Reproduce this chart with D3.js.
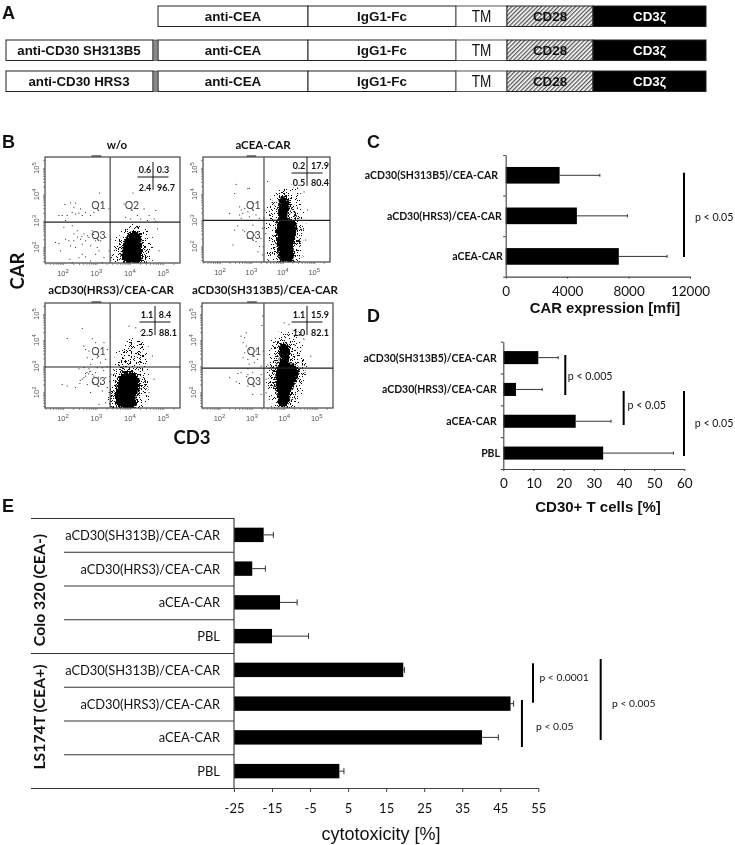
<!DOCTYPE html>
<html><head><meta charset="utf-8">
<script src="https://cdn.jsdelivr.net/npm/d3@7"></script>
<style>
html,body{margin:0;padding:0;background:#fff}
svg{display:block;filter:blur(0.35px)}
text{fill:#111}
.cal{font-family:Lato,sans-serif}
.ari{font-family:"Liberation Sans",Arial,sans-serif}
</style></head><body><svg id="c" width="735" height="845"></svg>
<script>
// ---------- Panel A
const segmentNames = ["anti-CEA","IgG1-Fc","TM","CD28","CD3ζ"];
const segmentEnds = [0,150,298,349,435,548];
const constructPrefixes = ["", "anti-CD30 SH313B5", "anti-CD30 HRS3"];
// ---------- Panel B (log10 fluorescence)
const panelTitles = ["w/o","aCEA-CAR","aCD30(HRS3)/CEA-CAR","aCD30(SH313B5)/CEA-CAR"];
const gateX = [3.41,3.40,3.41,3.37];
const gateY = [2.95,2.99,2.97,2.93];
const quadrantStats = [["0.6","0.3","2.4","96.7"],["0.2","17.9","0.5","80.4"],["1.1","8.4","2.5","88.1"],["1.1","15.9","1.0","82.1"]];
const coreWo = [[3.85,1.42],[4.3,1.42],[4.36,2.0],[4.3,2.45],[4.1,2.62],[3.9,2.4],[3.78,2.05],[3.75,1.7]];
const haloWo = [[3.45,1.42],[4.6,1.42],[4.62,2.1],[4.45,2.65],[4.1,2.85],[3.75,2.6],[3.55,2.2],[3.42,1.8]];
const coreCea = [[3.95,1.42],[4.3,1.42],[4.35,2.0],[4.42,2.5],[4.4,2.95],[4.15,3.1],[4.22,3.5],[4.12,3.9],[3.9,3.85],[3.85,3.4],[3.85,3.05],[3.8,2.6],[3.8,2.0]];
const haloCea = [[3.55,1.42],[4.55,1.42],[4.62,2.3],[4.68,3.0],[4.55,3.6],[4.55,4.05],[4.2,4.3],[3.85,4.15],[3.55,3.5],[3.45,2.8],[3.47,2.1]];
const coreHrs = [[3.65,1.42],[4.15,1.42],[4.2,1.8],[4.3,2.2],[4.25,2.6],[4.0,2.8],[3.7,2.65],[3.6,2.2],[3.55,1.8]];
const haloHrs = [[3.4,1.42],[4.5,1.42],[4.55,2.2],[4.5,2.9],[4.55,3.4],[4.4,3.95],[4.0,4.1],[3.75,3.8],[3.55,3.2],[3.45,2.6],[3.4,2.0]];
const midHrs = [[3.75,2.9],[4.2,2.9],[4.35,3.3],[4.25,3.75],[4.0,3.85],[3.8,3.6],[3.7,3.2]];
const coreSh = [[3.85,1.5],[4.1,1.5],[4.2,2.0],[4.42,2.6],[4.4,3.0],[4.15,3.15],[4.18,3.6],[4.05,3.9],[3.85,3.8],[3.85,3.2],[3.75,2.9],[3.72,2.4],[3.78,1.9]];
const haloSh = [[3.7,1.42],[4.3,1.42],[4.5,2.2],[4.7,3.0],[4.5,3.7],[4.5,4.2],[4.1,4.35],[3.7,4.0],[3.5,3.4],[3.45,2.6],[3.55,2.0]];
const sparseWo = [[3.08,4.07],[2.04,3.64],[2.21,3.7],[2.36,3.69],[2.31,3.53],[2.51,3.47],[2.46,3.31],[2.36,3.28],[2.26,3.34],[1.86,3.22],[1.96,3.22],[2.11,3.22],[2.06,3.03],[2.66,3.34],[2.81,3.22],[2.91,3.34],[2.56,3.22],[3.36,3.47],[4.08,4.07],[3.81,3.66],[4.21,3.22],[4.41,3.47],[4.56,3.22],[4.76,3.41],[4.71,3.09],[3.86,3.15],[4.01,3.09],[4.31,3.09],[4.51,3.03],[4.76,3.0],[2.01,2.77],[2.26,2.83],[2.41,2.64],[2.31,2.52],[2.61,2.52],[2.86,2.64],[2.51,2.32],[2.66,2.26],[2.31,2.26],[2.16,2.26],[2.06,2.32],[1.76,2.2],[1.86,2.16],[2.21,2.07],[2.36,2.01],[2.56,2.13],[2.76,2.39],[2.96,2.26],[2.81,2.07],[3.01,2.01],[3.11,2.26],[3.26,2.39],[3.41,2.32],[2.46,1.62],[2.56,1.75],[2.66,1.65],[2.19,1.56],[2.26,1.43],[1.91,1.88],[3.06,1.88],[3.21,1.62],[3.36,1.88],[2.81,1.49],[2.96,1.75],[3.16,1.43],[4.81,2.71],[4.66,2.39],[4.86,1.88],[2.42,2.4],[2.72,2.45],[2.9,2.5],[2.55,2.42]];
const sparseCea = [[2.5,4.39],[2.87,4.23],[2.92,4.23],[2.45,4.04],[2.61,3.53],[2.66,3.41],[2.77,3.47],[2.71,3.28],[2.87,3.34],[2.61,3.22],[2.29,3.28],[2.66,3.09],[3.03,3.66],[3.13,3.22],[3.24,3.09],[2.92,3.15],[2.55,2.8],[2.71,2.64],[2.77,2.58],[2.45,2.64],[2.4,2.07],[3.03,2.83],[3.08,2.45],[3.19,1.81],[3.24,2.01],[3.29,2.32],[3.13,2.2],[2.87,2.32],[3.34,2.71],[3.34,1.69],[4.77,3.41],[4.66,4.1],[4.55,4.04],[4.45,4.23],[4.64,2.64],[4.71,2.26],[3.5,4.5],[3.42,3.4],[3.38,3.1],[3.44,2.5],[3.36,2.0]];
const sparseHrs = [[2.56,4.46],[2.11,4.08],[3.96,4.55],[4.16,4.49],[4.31,4.36],[2.61,3.79],[2.66,3.66],[2.86,4.07],[2.96,3.92],[2.76,3.6],[3.21,3.92],[3.31,3.66],[2.71,3.34],[2.86,3.28],[3.01,3.34],[3.11,3.15],[3.26,3.28],[2.81,3.09],[2.61,2.96],[2.76,2.92],[2.46,2.92],[3.01,2.96],[3.16,2.96],[2.81,2.83],[2.96,2.77],[2.66,2.74],[2.86,2.7],[2.56,2.52],[2.66,2.64],[2.61,2.58],[2.91,2.64],[1.96,2.32],[2.11,2.26],[2.36,2.2],[2.49,2.36],[2.71,2.32],[3.11,2.32],[3.26,2.58],[3.31,2.2],[3.16,2.07],[3.06,1.56],[3.26,1.62],[2.81,2.01],[4.66,3.41],[4.71,2.52],[4.56,2.01],[2.7,2.78],[2.75,2.72],[2.78,2.8],[2.5,2.48],[2.9,2.4],[3.05,2.6],[3.2,2.85],[3.3,3.0]];
const sparseSh = [[3.32,4.94],[3.29,4.58],[2.81,4.3],[2.65,4.17],[2.76,4.11],[2.71,3.92],[2.81,3.79],[2.91,3.66],[2.76,3.53],[3.11,3.6],[3.01,3.41],[2.71,3.34],[2.86,3.28],[3.16,3.28],[3.06,3.15],[3.27,3.02],[2.86,2.92],[2.65,2.77],[2.55,2.74],[2.86,2.7],[3.01,2.77],[2.3,2.58],[2.5,2.42],[2.6,2.36],[2.86,2.26],[3.27,2.7],[3.21,2.32],[3.27,1.94],[3.01,1.94],[3.42,2.52],[3.52,1.75],[3.42,2.0],[4.8,3.4],[3.98,4.68],[4.13,4.62],[4.34,4.43],[4.59,4.05],[4.64,2.7],[2.82,2.62],[2.9,3.1],[3.33,3.6]];
// ---------- Panel C
const cCategories = ["aCD30(SH313B5)/CEA-CAR","aCD30(HRS3)/CEA-CAR","aCEA-CAR"];
const cValues = [3510,4635,7365];
const cErrorEnds = [6130,7930,10505];
const cTicks = [0,4000,8000,12000];
// ---------- Panel D
const dCategories = ["aCD30(SH313B5)/CEA-CAR","aCD30(HRS3)/CEA-CAR","aCEA-CAR","PBL"];
const dValues = [11.6,4.2,24,33.1];
const dErrorEnds = [18.2,12.9,35.7,56.4];
const dTicks = [0,10,20,30,40,50,60];
// ---------- Panel E
const eCategories = ["aCD30(SH313B)/CEA-CAR","aCD30(HRS3)/CEA-CAR","aCEA-CAR","PBL","aCD30(SH313B)/CEA-CAR","aCD30(HRS3)/CEA-CAR","aCEA-CAR","PBL"];
const eValues = [-17.2,-20.2,-12.9,-15,19.5,47.7,40.2,2.7];
const eErrorEnds = [-14.65,-16.75,-8.4,-5.4,19.8,48.5,44.5,3.9];
const eTicks = [-25,-15,-5,5,15,25,35,45,55];
const eGroups = ["Colo 320 (CEA-)","LS174T (CEA+)"];

const svg = d3.select("#c");
const defs = svg.append("defs");
const hatch = defs.append("pattern").attr("id","hatch").attr("width",3).attr("height",3).attr("patternUnits","userSpaceOnUse").attr("patternTransform","rotate(-45)");
hatch.append("rect").attr("width",3).attr("height",3).attr("fill","#fff");
hatch.append("rect").attr("width",3).attr("height",1.3).attr("fill","#555");
function stipple(id, dots){
  const p = defs.append("pattern").attr("id",id).attr("width",13).attr("height",13).attr("patternUnits","userSpaceOnUse");
  p.selectAll("rect").data(dots).join("rect").attr("x",d=>d[0]).attr("y",d=>d[1]).attr("width",1).attr("height",1).attr("fill","#111");
}
stipple("sparse",[[1,2],[5,0],[9,3],[12,1],[3,6],[7,5],[11,7],[0,9],[5,10],[8,8],[10,11],[2,12],[6,2],[0,5],[9,6],[3,9],[12,10],[7,12]]);
stipple("dense",[[1,2],[5,0],[9,3],[12,1],[3,6],[7,5],[11,7],[0,9],[5,10],[8,8],[10,11],[2,12],[3,3],[7,2],[10,5],[0,5],[5,7],[2,10],[7,11],[12,9],[6,3],[1,7],[9,10],[4,12],[11,2],[8,6],[4,1],[2,5],[6,9],[11,12],[9,0],[12,5]]);
function fuzz(id,scale,seed){
  const f=defs.append("filter").attr("id",id).attr("filterUnits","userSpaceOnUse").attr("x",0).attr("y",100).attr("width",400).attr("height",340);
  f.append("feTurbulence").attr("type","fractalNoise").attr("baseFrequency",.8).attr("numOctaves",2).attr("seed",seed).attr("result","n");
  f.append("feDisplacementMap").attr("in","SourceGraphic").attr("in2","n").attr("scale",scale).attr("xChannelSelector","R").attr("yChannelSelector","G");
}
fuzz("fzCore",7,3); fuzz("fzHalo",14,8);

function txt(x,y,s,cls,size,weight,anchor){
  return svg.append("text").attr("x",x).attr("y",y).attr("class",cls).attr("font-size",size)
    .attr("font-weight",weight||400).attr("text-anchor",anchor||"middle").attr("dominant-baseline","central").text(s);
}
// Panel letters
[["A",2,13],["B",2,142],["C",367,142],["D",367,316],["E",2,506]].forEach(d=>txt(d[1],d[2],d[0],"ari",18,700,"start"));

// ---------- A
const ax = d3.scaleLinear().domain([0,548]).range([158,706]);
const rowTops = [6,40,71];
constructPrefixes.forEach((pre,r)=>{
  const y = rowTops[r], h = 20.5;
  segmentNames.forEach((n,i)=>{
    const x0=ax(segmentEnds[i]), x1=ax(segmentEnds[i+1]);
    svg.append("rect").attr("x",x0).attr("y",y).attr("width",x1-x0).attr("height",h)
      .attr("fill",i===3?"url(#hatch)":i===4?"#000":"#fff").attr("stroke",i===2?"#555":"#222").attr("stroke-width",1);
    const t = txt((x0+x1)/2, y+h/2, n, "ari", i===2?16:13.4, i===2?400:700);
    if(i===4) t.style("fill","#fff");
    if(i===2) t.attr("transform",`translate(${(x0+x1)/2},0) scale(.85,1) translate(${-(x0+x1)/2},0)`);
  });
  if(pre){
    svg.append("rect").attr("x",6).attr("y",y).attr("width",147).attr("height",h).attr("fill","#fff").attr("stroke","#222");
    svg.append("rect").attr("x",153).attr("y",y).attr("width",5).attr("height",h).attr("fill","#888").attr("stroke","#222").attr("stroke-width",.5);
    txt(79,y+h/2,pre,"ari",13.3,700);
  }
});

// ---------- B
const boxes = [[45,180,157,263],[203,330,157,262],[45,180,303,408],[202,333,303,408]];
const allCore=[coreWo,coreCea,coreHrs,coreSh], allHalo=[haloWo,haloCea,haloHrs,haloSh], allSparse=[sparseWo,sparseCea,sparseHrs,sparseSh];
const titleCenters=[[117,144],[263,144],[111,289],[265,289]];
const crossLayout=[[153,177,162,190,145,163,169,187,166,163],[307,173,157,186,299,320,165,182,320,320],[155,322,306,335,147,165,314,332,168,165],[307,322,306,335,299,320,314,332,320,320]];
boxes.forEach((b,i)=>{
  const x=d3.scaleLinear().domain([1.46,5.5]).range([b[0],b[1]]);
  const y=d3.scaleLinear().domain([1.4,5.42]).range([b[3],b[2]]);
  const line=d3.line().x(d=>x(d[0])).y(d=>y(d[1])).curve(d3.curveCatmullRomClosed.alpha(.5));
  const g=svg.append("g");
  defs.append("clipPath").attr("id","clip"+i).append("rect").attr("x",b[0]).attr("y",b[2]).attr("width",b[1]-b[0]).attr("height",b[3]-b[2]);
  const cloud=g.append("g").attr("clip-path",`url(#clip${i})`);
  const h=cloud.append("g").attr("filter","url(#fzHalo)");
  h.append("path").attr("d",line(allHalo[i])).attr("fill","url(#sparse)");
  if(i===2) h.append("path").attr("d",line(midHrs)).attr("fill","url(#dense)");
  h.append("path").attr("d",line(allCore[i])).attr("fill","none").attr("stroke","url(#dense)").attr("stroke-width",12);
  cloud.append("g").attr("filter","url(#fzCore)").append("path").attr("d",line(allCore[i])).attr("fill","#000");
  g.selectAll("rect.s").data(allSparse[i]).join("rect").attr("class","s").attr("x",d=>x(d[0])).attr("y",d=>y(d[1])).attr("width",1).attr("height",1).attr("fill","#222");
  g.append("rect").attr("x",b[0]).attr("y",b[2]).attr("width",b[1]-b[0]).attr("height",b[3]-b[2]).attr("fill","none").attr("stroke","#444").attr("stroke-width",1.2);
  g.append("line").attr("x1",x(gateX[i])).attr("x2",x(gateX[i])).attr("y1",b[2]).attr("y2",b[3]).attr("stroke","#555").attr("stroke-width",1.3);
  g.append("line").attr("y1",y(gateY[i])).attr("y2",y(gateY[i])).attr("x1",b[0]).attr("x2",b[1]).attr("stroke","#222").attr("stroke-width",1.2);
  // Gate names
  [["Q1",3.06,3.6],["Q3",3.06,2.45]].concat(i===0?[["Q2",4.06,3.6]]:[]).forEach(q=>{
    txt(x(q[1]),y(q[2]),q[0],"cal",10.5,400).style("fill","#444");
  });
  // log axes
  const minor=[]; for(let d=1;d<5.5;d++) for(let m=1;m<10;m++){const v=d+Math.log10(m); if(v>=1.46&&v<=5.42) minor.push(v);}
  const xa=g.append("g").attr("transform",`translate(0,${b[3]})`).call(d3.axisBottom(x).tickValues(minor).tickSize(2).tickFormat("").tickSizeOuter(0));
  const ya=g.append("g").attr("transform",`translate(${b[0]},0)`).call(d3.axisLeft(y).tickValues(minor).tickSize(2).tickFormat("").tickSizeOuter(0));
  [xa,ya].forEach(a=>{a.select(".domain").remove();a.selectAll("line").attr("stroke","#666").attr("stroke-width",.7);});
  [2,3,4,5].forEach(e=>{
    const tx=g.append("text").attr("x",x(e)).attr("y",b[3]+13).attr("text-anchor","middle").attr("font-family","Liberation Sans").attr("font-size",7.5).style("fill","#555");
    tx.append("tspan").text("10"); tx.append("tspan").attr("dy",-3).attr("font-size",6).text(e);
    const ty=g.append("text").attr("transform",`translate(${b[0]-6},${y(e)}) rotate(-90)`).attr("text-anchor","middle").attr("font-family","Liberation Sans").attr("font-size",7.5).style("fill","#555");
    ty.append("tspan").text("10"); ty.append("tspan").attr("dy",-3).attr("font-size",6).text(e);
  });
  g.append("line").attr("x1",x(2.85)).attr("x2",x(3.15)).attr("y1",b[2]-1).attr("y2",b[2]-1).attr("stroke","#333").attr("stroke-width",1.2);
  // Quadrant table
  const c=crossLayout[i], s=quadrantStats[i];
  g.append("line").attr("x1",c[0]-15.5).attr("x2",c[0]+15.5).attr("y1",c[1]).attr("y2",c[1]).attr("stroke","#111").attr("stroke-width",1);
  g.append("line").attr("x1",c[0]).attr("x2",c[0]).attr("y1",c[2]).attr("y2",c[3]).attr("stroke","#111").attr("stroke-width",1);
  txt(c[4],c[6],s[0],"cal",9,700); txt(c[9],c[6],s[1],"cal",9,700);
  txt(c[4],c[7],s[2],"cal",9,700); txt(c[8],c[7],s[3],"cal",9,700);
  txt(titleCenters[i][0],titleCenters[i][1],panelTitles[i],"cal",11.5,700);
});
svg.append("text").attr("class","cal").attr("font-size",18.5).attr("font-weight",700).attr("text-anchor","middle").attr("dominant-baseline","central").attr("transform","translate(17,271) rotate(-90)").text("CAR");
txt(192,437,"CD3","cal",18.5,700);

// ---------- bar helper
function bars(o){
  const x=d3.scaleLinear().domain(o.domain).range(o.xr);
  const y=d3.scaleBand().domain(d3.range(o.cats.length)).range(o.yr).paddingInner(o.p).paddingOuter(o.p/2);
  const idx=d3.scaleLinear().domain([0,o.cats.length]).range(o.yr);
  const g=svg.append("g");
  const base=o.domain[0];
  g.selectAll("rect").data(o.vals).join("rect").attr("x",x(base)).attr("y",(d,i)=>y(i)).attr("width",d=>x(d)-x(base)).attr("height",y.bandwidth()).attr("fill","#000");
  const mid=i=>y(i)+y.bandwidth()/2;
  g.selectAll("line.e").data(o.errs).join("line").attr("class","e").attr("x1",(d,i)=>x(o.vals[i])).attr("x2",d=>x(d)).attr("y1",(d,i)=>mid(i)).attr("y2",(d,i)=>mid(i)).attr("stroke","#333").attr("stroke-width",1);
  g.selectAll("line.c").data(o.errs).join("line").attr("class","c").attr("x1",d=>x(d)).attr("x2",d=>x(d)).attr("y1",(d,i)=>mid(i)-o.cap).attr("y2",(d,i)=>mid(i)+o.cap).attr("stroke","#333").attr("stroke-width",1);
  const xa=g.append("g").attr("transform",`translate(0,${o.yr[1]})`).call(d3.axisBottom(x).tickValues(o.ticks).tickSize(o.tick).tickSizeOuter(0).tickFormat(d=>String(d)));
  xa.select(".domain").attr("stroke","#444").attr("stroke-width",1.2);
  xa.selectAll("line").attr("stroke","#444").attr("stroke-width",1);
  xa.selectAll("text").attr("class","cal").attr("font-family","Lato").attr("font-size",o.tickFont).attr("dy",0).attr("y",o.tickY).attr("dominant-baseline","central").style("fill","#111");
  if(o.leftTicks){
    const ya=g.append("g").attr("transform",`translate(${o.xr[0]},0)`).call(d3.axisLeft(idx).ticks(o.cats.length).tickSize(2.5).tickSizeOuter(0).tickFormat(""));
    ya.selectAll("path,line").attr("stroke","#444").attr("stroke-width",1.1);
  }
  o.cats.forEach((c,i)=>{ txt(o.labelX[i],mid(i),c,"cal",o.labelFont,o.labelWeight,"end"); });
  (o.sig||[]).forEach(s=>{
    g.append("line").attr("x1",x(s[0])).attr("x2",x(s[0])).attr("y1",idx(s[1])).attr("y2",idx(s[2])).attr("stroke","#000").attr("stroke-width",2);
    txt(x(s[3]),idx(s[4]),s[5],"cal",o.pFont,400,"start");
  });
  return {x,y,idx,g};
}
bars({cats:cCategories,vals:cValues,errs:cErrorEnds,domain:[0,12000],xr:[505.7,690],yr:[155,276.7],p:.59,cap:1.5,ticks:cTicks,tick:2,tickFont:13.5,tickY:14,leftTicks:true,
  labelX:[498,501.7,502.7],labelFont:10.5,labelWeight:700,pFont:10.6,
  sig:[[11610,.436,2.514,12324,1.52,"p < 0.05"]]});
txt(605,307.5,"CAR expression [mfi]","ari",14.8,700);
bars({cats:dCategories,vals:dValues,errs:dErrorEnds,domain:[0,60],xr:[503.3,684.3],yr:[341.7,469],p:.59,cap:1.5,ticks:dTicks,tick:2,tickFont:13.5,tickY:14,leftTicks:true,
  labelX:[496.7,496.7,496.7,500],labelFont:10.5,labelWeight:700,pFont:10.6,
  sig:[[20.55,.418,1.675,21.4,1.078,"p < 0.005"],[39.9,1.549,2.617,41.2,1.989,"p < 0.05"],[59.9,1.549,3.591,63.5,2.545,"p < 0.05"]]});
txt(598,506,"CD30+ T cells [%]","ari",15,700);
const E=bars({cats:eCategories,vals:eValues,errs:eErrorEnds,domain:[-25,55],xr:[234,538.3],yr:[518,788],p:.573,cap:3,ticks:eTicks,tick:4,tickFont:13,tickY:20,leftTicks:false,
  labelX:d3.range(8).map(()=>220),labelFont:12.9,labelWeight:400,pFont:10.3,
  sig:[[53.6,4.305,5.473,55.3,4.71,"p < 0.0001"],[50.7,5.393,6.785,54.4,6.154,"p < 0.05"],[71.4,4.178,6.578,74.4,5.473,"p < 0.005"]]});
E.g.append("line").attr("x1",234).attr("x2",234).attr("y1",518).attr("y2",788).attr("stroke","#444").attr("stroke-width",1.2);
d3.range(0,9).forEach(i=>{
  const full=i===0||i===4||i===8;
  E.g.append("line").attr("x1",full?31:64).attr("x2",234).attr("y1",E.idx(i)+.5).attr("y2",E.idx(i)+.5).attr("stroke","#333").attr("stroke-width",1.2);
});
txt(381,833.5,"cytotoxicity [%]","ari",18,400);
[[38,590,eGroups[0]],[38,717,eGroups[1]]].forEach(d=>{
  svg.append("text").attr("class","cal").attr("font-size",15.8).attr("font-weight",700).attr("text-anchor","middle").attr("dominant-baseline","central").attr("transform",`translate(${d[0]},${d[1]}) rotate(-90)`).text(d[2]);
});
</script></body></html>
